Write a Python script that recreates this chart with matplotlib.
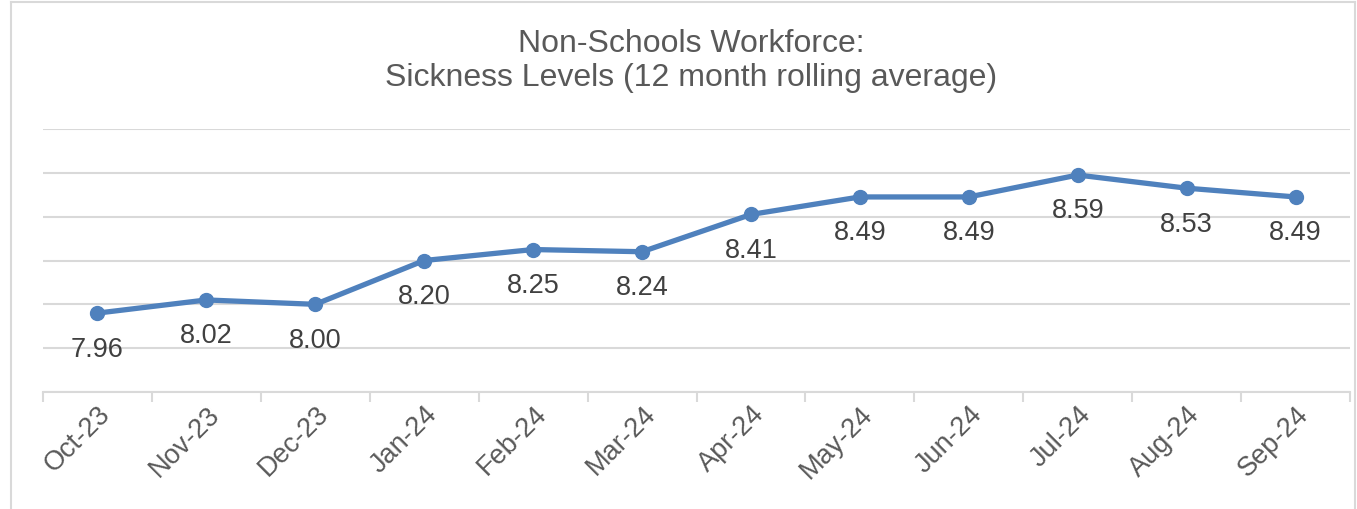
import matplotlib
matplotlib.use("Agg")
import matplotlib.pyplot as plt
from matplotlib.lines import Line2D

months = ["Oct-23", "Nov-23", "Dec-23", "Jan-24", "Feb-24", "Mar-24",
          "Apr-24", "May-24", "Jun-24", "Jul-24", "Aug-24", "Sep-24"]
values = [7.96, 8.02, 8.00, 8.20, 8.25, 8.24, 8.41, 8.49, 8.49, 8.59, 8.53, 8.49]
title = "Non-Schools Workforce:\nSickness Levels (12 month rolling average)"

plt.rcParams['font.family'] = ['Liberation Sans', 'DejaVu Sans']

W, H = 1357, 510
fig = plt.figure(figsize=(W / 100, H / 100), dpi=100)
ax = fig.add_axes([43 / W, 1 - 393 / H, (1350 - 43) / W, (393 - 130) / H])

x = list(range(len(months)))
ax.plot(x, values, color="#4F81BD", linewidth=3.8, marker="o", markersize=10,
        solid_capstyle="round", zorder=3)
for xi, v in zip(x, values):
    ax.annotate(f"{v:.2f}", (xi, v), xytext=(0, -25.5), textcoords="offset points",
                ha="center", va="center", fontsize=19.5, color="#404040")

ax.set_xlim(-0.5, len(months) - 0.5)
ax.set_ylim(7.6, 8.8)
ax.set_yticks([7.6, 7.8, 8.0, 8.2, 8.4, 8.6, 8.8])
ax.yaxis.grid(True, color="#D9D9D9", linewidth=1.5)
ax.set_axisbelow(True)
ax.tick_params(axis="y", left=False, labelleft=False)
for s in ["left", "right", "top"]:
    ax.spines[s].set_visible(False)
ax.spines["bottom"].set_color("#D9D9D9")
ax.spines["bottom"].set_linewidth(1.5)

ax.set_xticks(x)
ax.set_xticklabels(months, rotation=45, ha="right", va="top",
                   rotation_mode="anchor", fontsize=19.5, color="#595959")
ax.tick_params(axis="x", which="major", length=0, pad=6)
ax.set_xticks([i - 0.5 for i in range(len(months) + 1)], minor=True)
ax.tick_params(axis="x", which="minor", length=7, width=1.5, color="#D9D9D9")

fig.text(691 / W, 1 - 61 / H, title, ha="center", va="center",
         fontsize=23, color="#595959", linespacing=1.2)

# chart border
fig.add_artist(Line2D([11 / W, 11 / W], [0, 1 - 3 / H], color="#D9D9D9", linewidth=1.5,
                      transform=fig.transFigure))
fig.add_artist(Line2D([11 / W, 1355 / W], [1 - 3 / H, 1 - 3 / H], color="#D9D9D9",
                      linewidth=1.5, transform=fig.transFigure))
fig.add_artist(Line2D([1355 / W, 1355 / W], [0, 1 - 3 / H], color="#D9D9D9", linewidth=1.5,
                      transform=fig.transFigure))

fig.savefig("out.png", dpi=100, facecolor="white")
